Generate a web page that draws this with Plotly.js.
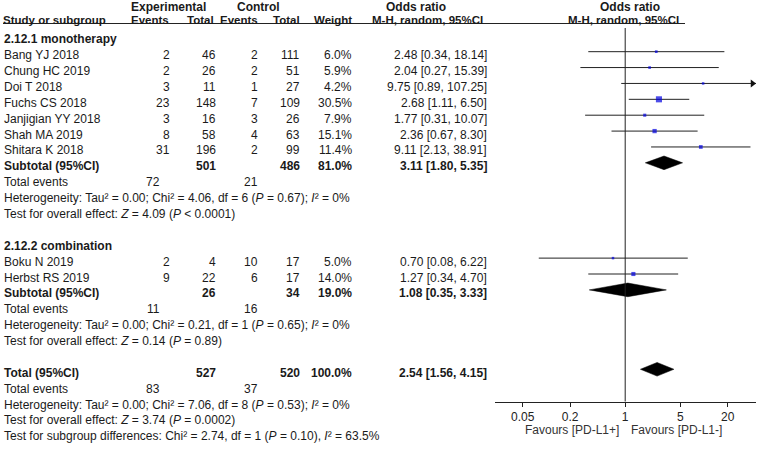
<!DOCTYPE html>
<html><head><meta charset="utf-8">
<script src="https://cdn.plot.ly/plotly-3.0.1.min.js"></script>
<style>html,body{margin:0;padding:0;background:#fff}#chart{width:765px;height:449px}</style>
</head><body><div id="chart"></div>
<script>
// ---------------- data ----------------
const groupNames = ["2.12.1 monotherapy", "2.12.2 combination"];

const studies1   = ["Bang YJ 2018","Chung HC 2019","Doi T 2018","Fuchs CS 2018","Janjigian YY 2018","Shah MA 2019","Shitara K 2018"];
const expEvents1 = [2, 2, 3, 23, 3, 8, 31];
const expTotal1  = [46, 26, 11, 148, 16, 58, 196];
const ctlEvents1 = [2, 2, 1, 7, 3, 4, 2];
const ctlTotal1  = [111, 51, 27, 109, 26, 63, 99];
const weight1    = [6.0, 5.9, 4.2, 30.5, 7.9, 15.1, 11.4];
const or1        = [2.48, 2.04, 9.75, 2.68, 1.77, 2.36, 9.11];
const lo1        = [0.34, 0.27, 0.89, 1.11, 0.31, 0.67, 2.13];
const hi1        = [18.14, 15.39, 107.25, 6.50, 10.07, 8.30, 38.91];

const studies2   = ["Boku N 2019","Herbst RS 2019"];
const expEvents2 = [2, 9];
const expTotal2  = [4, 22];
const ctlEvents2 = [10, 6];
const ctlTotal2  = [17, 17];
const weight2    = [5.0, 14.0];
const or2        = [0.70, 1.27];
const lo2        = [0.08, 0.34];
const hi2        = [6.22, 4.70];

const subExpTotal = [501, 26];
const subCtlTotal = [486, 34];
const subWeight   = [81.0, 19.0];
const subOR       = [3.11, 1.08];
const subLo       = [1.80, 0.35];
const subHi       = [5.35, 3.33];
const subExpEv    = [72, 11];
const subCtlEv    = [21, 16];
const subHet      = ["Heterogeneity: Tau² = 0.00; Chi² = 4.06, df = 6 (<i>P</i> = 0.67); <i>I</i>² = 0%",
                     "Heterogeneity: Tau² = 0.00; Chi² = 0.21, df = 1 (<i>P</i> = 0.65); <i>I</i>² = 0%"];
const subTest     = ["Test for overall effect: <i>Z</i> = 4.09 (<i>P</i> < 0.0001)",
                     "Test for overall effect: <i>Z</i> = 0.14 (<i>P</i> = 0.89)"];

const totExpTotal = 527, totCtlTotal = 520, totWeight = 100.0;
const totOR = 2.54, totLo = 1.56, totHi = 4.15;
const totExpEv = 83, totCtlEv = 37;
const totHet  = "Heterogeneity: Tau² = 0.00; Chi² = 7.06, df = 8 (<i>P</i> = 0.53); <i>I</i>² = 0%";
const totTest = "Test for overall effect: <i>Z</i> = 3.74 (<i>P</i> = 0.0002)";
const totSubgroup = "Test for subgroup differences: Chi² = 2.74, df = 1 (<i>P</i> = 0.10), <i>I</i>² = 63.5%";

const tickVals   = [0.05, 0.2, 1, 5, 20];
const tickLabels = ["0.05", "0.2", "1", "5", "20"];
const favLeft  = "Favours [PD-L1+]";
const favRight = "Favours [PD-L1-]";

// ---------------- layout geometry ----------------
const W = 765, H = 449;
const M0 = 35.8, P = 15.88;          // mark pixel = M0 + P*row
const TXT = 3.5;                     // text sits this many px below marks
const yRange = [(H - M0) / P, -M0 / P];
const xRange = [-1.6525, 1.660];
const xDom = [495 / W, 756 / W];
const axisPx = 401.5;
const FONT = "Liberation Sans, Arial, sans-serif";
const FS = 12;
const TC = "#1a1a1a";

const COL = {label: 3, expEv: 171, expTot: 217, ctlEv: 259, ctlTot: 301, wt: 353, or: 488, expSumEv: 161};

const ann = [];
function txt(x, row, s, anchor, bold, extra) {
  ann.push(Object.assign({
    xref: "paper", yref: "y", x: x / W, y: row, yshift: -TXT,
    text: bold ? "<b>" + s + "</b>" : s, showarrow: false,
    xanchor: anchor, yanchor: "middle", borderpad: 0,
    font: {family: FONT, size: FS, color: TC}
  }, extra || {}));
}
function hdr(x, px, s, anchor, fs) {
  ann.push({xref: "paper", yref: "paper", x: x / W, y: 1 - px / H,
    text: "<b>" + s + "</b>", showarrow: false, xanchor: anchor, yanchor: "middle", borderpad: 0,
    font: {family: FONT, size: fs, color: TC}});
}
const fmtCI = (o, l, h) => o.toFixed(2) + " [" + l.toFixed(2) + ", " + h.toFixed(2) + "]";

// headers
const H1 = 7, H2 = 20, HF1 = 12, HF2 = 11.5;
hdr(168, H1, "Experimental", "center", HF1);
hdr(258, H1, "Control", "center", HF1);
hdr(416, H1, "Odds ratio", "center", HF1);
hdr(630, H1, "Odds ratio", "center", HF1);
hdr(2, H2, "Study or subgroup", "left", HF2);
hdr(170, H2, "Events", "right", HF2);
hdr(215, H2, "Total", "right", HF2);
hdr(259, H2, "Events", "right", HF2);
hdr(301, H2, "Total", "right", HF2);
hdr(353, H2, "Weight", "right", HF2);
hdr(427, H2, "M-H, random, 95%CI", "center", HF2);
hdr(623, H2, "M-H, random, 95%CI", "center", HF2);

// marks
const ciX = [], ciY = [], sqX = [], sqY = [], sqS = [], arX = [], arY = [];
const diamonds = [];
const groups = [
  {studies: studies1, ee: expEvents1, et: expTotal1, ce: ctlEvents1, ct: ctlTotal1, w: weight1, o: or1, l: lo1, h: hi1},
  {studies: studies2, ee: expEvents2, et: expTotal2, ce: ctlEvents2, ct: ctlTotal2, w: weight2, o: or2, l: lo2, h: hi2}
];
const xMax = Math.pow(10, xRange[1]);
let r = 0;
groups.forEach((g, gi) => {
  txt(COL.label, r, groupNames[gi], "left", true);
  g.studies.forEach((s, k) => {
    const row = r + 1 + k;
    txt(COL.label, row, s, "left");
    txt(COL.expEv, row, String(g.ee[k]), "right");
    txt(COL.expTot, row, String(g.et[k]), "right");
    txt(COL.ctlEv, row, String(g.ce[k]), "right");
    txt(COL.ctlTot, row, String(g.ct[k]), "right");
    txt(COL.wt, row, g.w[k].toFixed(1) + "%", "right");
    txt(COL.or, row, fmtCI(g.o[k], g.l[k], g.h[k]), "right");
    ciX.push(g.l[k], g.h[k], null); ciY.push(row, row, null);
    sqX.push(g.o[k]); sqY.push(row); sqS.push(Math.max(2.5, 1.1 * Math.sqrt(g.w[k])));
    if (g.h[k] > xMax) { arX.push(Math.pow(10, xRange[1] - 3.5 / 78.8)); arY.push(row); }
  });
  const sr = r + 1 + g.studies.length;
  txt(COL.label, sr, "Subtotal (95%CI)", "left", true);
  txt(COL.expTot, sr, String(subExpTotal[gi]), "right", true);
  txt(COL.ctlTot, sr, String(subCtlTotal[gi]), "right", true);
  txt(COL.wt, sr, subWeight[gi].toFixed(1) + "%", "right", true);
  txt(COL.or, sr, fmtCI(subOR[gi], subLo[gi], subHi[gi]), "right", true);
  diamonds.push({o: subOR[gi], l: subLo[gi], h: subHi[gi], row: sr});
  txt(COL.label, sr + 1, "Total events", "left");
  txt(COL.expSumEv, sr + 1, String(subExpEv[gi]), "right");
  txt(COL.ctlEv, sr + 1, String(subCtlEv[gi]), "right");
  txt(COL.label, sr + 2, subHet[gi], "left");
  txt(COL.label, sr + 3, subTest[gi], "left");
  r = sr + 5;
});
// overall
txt(COL.label, r, "Total (95%CI)", "left", true);
txt(COL.expTot, r, String(totExpTotal), "right", true);
txt(COL.ctlTot, r, String(totCtlTotal), "right", true);
txt(COL.wt, r, totWeight.toFixed(1) + "%", "right", true);
txt(COL.or, r, fmtCI(totOR, totLo, totHi), "right", true);
diamonds.push({o: totOR, l: totLo, h: totHi, row: r});
txt(COL.label, r + 1, "Total events", "left");
txt(COL.expSumEv, r + 1, String(totExpEv), "right");
txt(COL.ctlEv, r + 1, String(totCtlEv), "right");
txt(COL.label, r + 2, totHet, "left");
txt(COL.label, r + 3, totTest, "left");
txt(COL.label, r + 4, totSubgroup, "left");

// favours labels
ann.push({xref: "paper", yref: "paper", x: 620 / W, y: 1 - 430 / H, text: favLeft, showarrow: false,
  xanchor: "right", yanchor: "middle", borderpad: 0, font: {family: FONT, size: FS, color: "#333"}});
ann.push({xref: "paper", yref: "paper", x: 630 / W, y: 1 - 430 / H, text: favRight, showarrow: false,
  xanchor: "left", yanchor: "middle", borderpad: 0, font: {family: FONT, size: FS, color: "#333"}});

const traces = [];
traces.push({type: "scatter", mode: "lines", x: ciX, y: ciY, line: {color: "#222", width: 1},
  hoverinfo: "skip", showlegend: false});
traces.push({type: "scatter", mode: "markers", x: sqX, y: sqY,
  marker: {symbol: "square", size: sqS, color: "#0000e0", line: {width: 0}}, showlegend: false});
if (arX.length) traces.push({type: "scatter", mode: "markers", x: arX, y: arY, cliponaxis: false,
  marker: {symbol: "triangle-right", size: 7, color: "#111", line: {width: 0}}, showlegend: false});
const HH = 0.43;
diamonds.forEach(d => traces.push({type: "scatter", mode: "lines", fill: "toself",
  x: [d.l, d.o, d.h, d.o, d.l], y: [d.row, d.row - HH, d.row, d.row + HH, d.row],
  fillcolor: "#000", line: {color: "#000", width: 0.5}, showlegend: false, hoverinfo: "skip"}));

const layout = {
  width: W, height: H, margin: {l: 0, r: 0, t: 0, b: 0},
  paper_bgcolor: "#fff", plot_bgcolor: "rgba(0,0,0,0)", showlegend: false,
  xaxis: {type: "log", range: xRange, domain: xDom, anchor: "free", position: 1 - axisPx / H,
    showline: true, linecolor: "#222", linewidth: 1, ticks: "outside", ticklen: 4, tickcolor: "#222",
    tickvals: tickVals, ticktext: tickLabels, showgrid: false, zeroline: false,
    tickfont: {family: FONT, size: 12, color: "#222"}, fixedrange: true},
  yaxis: {range: yRange, domain: [0, 1], visible: false, fixedrange: true},
  shapes: [
    {type: "line", xref: "x", yref: "paper", x0: 1, x1: 1, y0: 1 - 28 / H, y1: 1 - axisPx / H,
      line: {color: "#222", width: 1}},
    {type: "line", xref: "paper", yref: "paper", x0: 3 / W, x1: 685 / W, y0: 1 - 23.5 / H, y1: 1 - 23.5 / H,
      line: {color: "#222", width: 1}}
  ],
  annotations: ann
};
Plotly.newPlot("chart", traces, layout, {displayModeBar: false, staticPlot: true});
</script></body></html>
